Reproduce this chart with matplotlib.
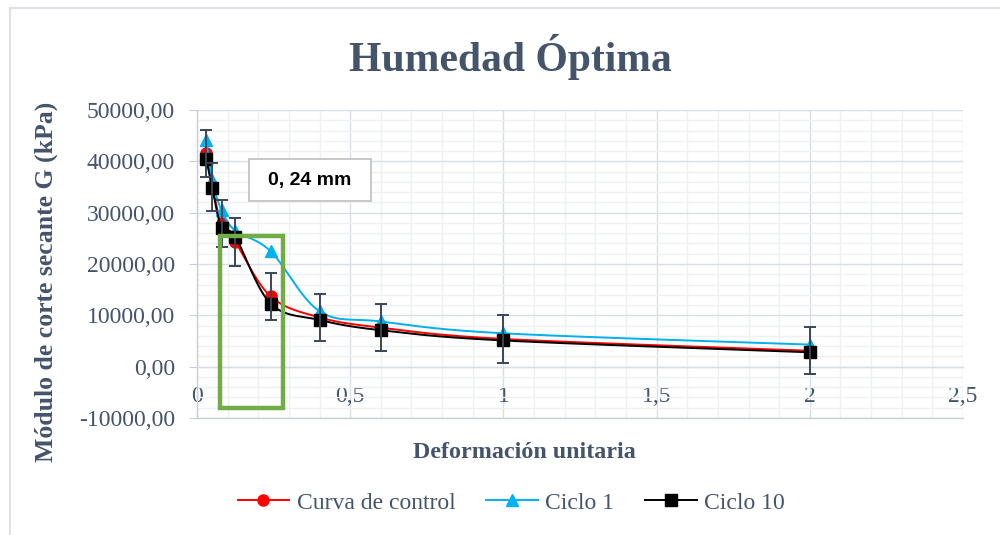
import numpy as np
import matplotlib
matplotlib.use("Agg")
import matplotlib.pyplot as plt
from matplotlib.patches import Rectangle
from matplotlib.lines import Line2D

# ---- data ----
x_vals = [0.03, 0.05, 0.08, 0.125, 0.24, 0.4, 0.6, 1.0, 2.0]
control = [41600, 35000, 27900, 24300, 13700, 9600, 7600, 5400, 3100]
ciclo1 = [44200, 36300, 30500, 26500, 22500, 10800, 8800, 6500, 4300]
ciclo10 = [40500, 34800, 27100, 25300, 12300, 9100, 7100, 5100, 2800]
err_control = [4600, 4600, 4600, 4600, 4600, 4600, 4600, 4600, 4600]
series_names = ["Curva de control", "Ciclo 1", "Ciclo 10"]
xticks = [0, 0.5, 1, 1.5, 2, 2.5]
xtick_labels = ["0", "0,5", "1", "1,5", "2", "2,5"]
yticks = [-10000, 0, 10000, 20000, 30000, 40000, 50000]
ytick_labels = ["-10000,00", "0,00", "10000,00", "20000,00", "30000,00", "40000,00", "50000,00"]

TXT = "#44546a"
SERIF = ["Liberation Serif", "DejaVu Serif"]

W, H = 1000, 535
fig = plt.figure(figsize=(W / 100, H / 100), dpi=100)
ax_l, ax_r, ax_t, ax_b = 197, 963, 110, 418
ax = fig.add_axes([ax_l / W, 1 - ax_b / H, (ax_r - ax_l) / W, (ax_b - ax_t) / H])
xmin, xmax, ymin, ymax = 0, 2.5, -10000, 50000
ax.set_xlim(xmin, xmax)
ax.set_ylim(ymin, ymax)
sx = (ax_r - ax_l) / (xmax - xmin)
sy = (ax_b - ax_t) / (ymax - ymin)


def smooth(xs, ys, n=40):
    # Catmull-Rom style bezier in screen space (like Excel smoothed lines)
    P = np.column_stack([np.array(xs) * sx, np.array(ys) * sy])
    out = [P[0]]
    m = len(P)
    for i in range(m - 1):
        p0 = P[i - 1] if i > 0 else P[i]
        p1, p2 = P[i], P[i + 1]
        p3 = P[i + 2] if i + 2 < m else P[i + 1]
        c1 = p1 + (p2 - p0) / 6.0
        c2 = p2 - (p3 - p1) / 6.0
        t = np.linspace(0, 1, n)[1:, None]
        seg = ((1 - t) ** 3) * p1 + 3 * ((1 - t) ** 2) * t * c1 + 3 * (1 - t) * t ** 2 * c2 + t ** 3 * p2
        out.extend(seg)
    out = np.array(out)
    return out[:, 0] / sx, out[:, 1] / sy


# grid
ax.set_xticks(xticks)
ax.set_xticks(np.arange(0, 2.51, 0.1), minor=True)
ax.set_yticks(yticks)
ax.set_yticks(np.arange(-10000, 50001, 2000), minor=True)
ax.grid(True, which="minor", color="#eef0f3", lw=1.0, zorder=0)
ax.grid(True, which="major", color="#d9dde5", lw=1.0, zorder=0)
ax.set_axisbelow(True)

for s in ["top", "right"]:
    ax.spines[s].set_visible(False)
ax.spines["left"].set_color("#c9ced8")
ax.spines["left"].set_linewidth(1.0)
ax.spines["bottom"].set_position(("data", 0))
ax.spines["bottom"].set_color("#d9dde5")
ax.spines["bottom"].set_linewidth(1.0)
ax.axhline(ymin, color="#c9ced8", lw=1.0, zorder=1, clip_on=False)

ax.set_yticklabels(ytick_labels, fontfamily=SERIF, fontsize=17, color=TXT)
ax.set_xticklabels(xtick_labels, fontfamily=SERIF, fontsize=17, color=TXT)
ax.tick_params(axis="y", which="major", length=6, color="#c9ced8", pad=10)
ax.tick_params(axis="y", which="minor", length=0)
ax.tick_params(axis="x", which="both", length=0, pad=14)

colors = ["#ff0000", "#00b0f0", "#000000"]
markers = ["o", "^", "s"]
data = [control, ciclo1, ciclo10]
for ys, c, mk, z in zip(data, colors, markers, [3, 4, 5]):
    xs_s, ys_s = smooth(x_vals, ys)
    ax.plot(xs_s, ys_s, color=c, lw=1.4, zorder=z, solid_capstyle="round")
    ax.plot(x_vals, ys, ls="none", marker=mk, color=c, markersize=8, zorder=z)

ax.errorbar(x_vals, control, yerr=err_control, fmt="none", ecolor="#3b4656",
            elinewidth=1.4, capsize=4, capthick=1.4, zorder=6)

# green rectangle
ax.add_patch(Rectangle((0.075, -8000), 0.205, 33400, fill=False, ec="#70ad47", lw=3.2,
                       zorder=7, clip_on=False))

# annotation box
bx0, by0, bx1, by1 = 249, 159, 371, 201
fig.patches.append(Rectangle((bx0 / W, 1 - by1 / H), (bx1 - bx0) / W, (by1 - by0) / H,
                             transform=fig.transFigure, fc="white", ec="#bfbfbf", lw=1.2, zorder=8))
fig.text((bx0 + bx1) / 2 / W, 1 - (by0 + by1) / 2 / H, "0, 24 mm", ha="center", va="center",
         fontsize=14, fontweight="bold", family=["Liberation Sans", "DejaVu Sans"], color="#000000",
         zorder=9)

# titles
fig.text(510 / W, 1 - 57 / H, "Humedad Óptima", ha="center", va="center", fontsize=30,
         fontweight="bold", family=SERIF, color=TXT)
fig.text(46 / W, 1 - 282 / H, "Módulo de corte secante G (kPa)", ha="center", va="center",
         rotation=90, fontsize=18.5, fontweight="bold", family=SERIF, color=TXT)
fig.text(524 / W, 1 - 452 / H, "Deformación unitaria", ha="center", va="center", fontsize=17.3,
         fontweight="bold", family=SERIF, color=TXT)

# legend
handles = [Line2D([], [], color=c, marker=m, lw=1.4, markersize=8) for c, m in zip(colors, markers)]
leg = fig.legend(handles, series_names, loc="center", bbox_to_anchor=(511 / W, 1 - 503 / H),
                 ncol=3, frameon=False, prop={"family": SERIF, "size": 17}, handlelength=2.2,
                 handletextpad=0.3, columnspacing=1.3)
for t in leg.get_texts():
    t.set_color(TXT)

# chart border (left and top)
fig.add_artist(Line2D([10 / W, 10 / W], [0, 1 - 8 / H], transform=fig.transFigure, color="#dde1e8", lw=1.5))
fig.add_artist(Line2D([10 / W, 1], [1 - 8 / H, 1 - 8 / H], transform=fig.transFigure, color="#dde1e8", lw=1.5))

fig.savefig("out.png", dpi=100)
